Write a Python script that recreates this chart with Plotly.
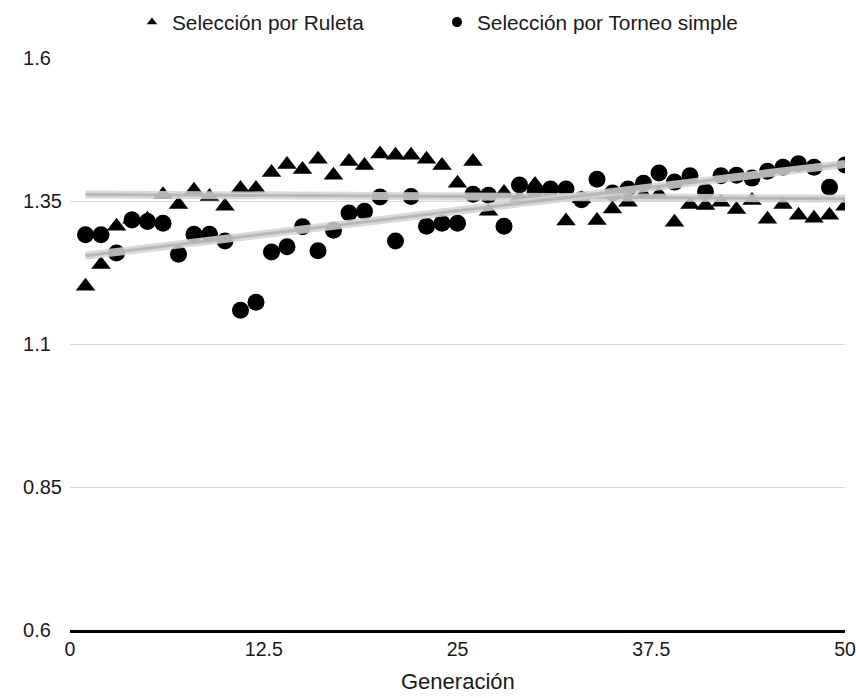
import numpy as np
import plotly.graph_objects as go

generacion = list(range(1, 51))

ruleta = [1.201, 1.239, 1.306, 1.318, 1.318, 1.361, 1.344, 1.369, 1.358, 1.341,
          1.372, 1.372, 1.400, 1.414, 1.405, 1.423, 1.395, 1.419, 1.412, 1.432,
          1.430, 1.430, 1.423, 1.412, 1.381, 1.419, 1.332, 1.365, 1.356, 1.379,
          1.361, 1.315, 1.354, 1.316, 1.336, 1.348, 1.361, 1.362, 1.313, 1.344,
          1.342, 1.348, 1.335, 1.351, 1.318, 1.344, 1.325, 1.320, 1.325, 1.341]

torneo = [1.291, 1.291, 1.259, 1.317, 1.314, 1.311, 1.257, 1.292, 1.292, 1.280,
          1.159, 1.173, 1.261, 1.270, 1.305, 1.263, 1.299, 1.329, 1.332, 1.357,
          1.280, 1.358, 1.306, 1.311, 1.311, 1.362, 1.360, 1.306, 1.378, 1.366,
          1.371, 1.371, 1.352, 1.388, 1.364, 1.371, 1.381, 1.399, 1.383, 1.394,
          1.366, 1.394, 1.395, 1.390, 1.402, 1.409, 1.415, 1.409, 1.374, 1.413]

x_ticks = [0, 12.5, 25, 37.5, 50]
x_tick_labels = ["0", "12.5", "25", "37.5", "50"]
y_ticks = [0.6, 0.85, 1.1, 1.35, 1.6]
y_tick_labels = ["0.6\u2007", "0.85", "1.1\u2007", "1.35", "1.6\u2007"]
x_title = "Generación"

FONT = "Liberation Sans, Arial, Helvetica, sans-serif"

x = np.array(generacion, dtype=float)
xr = np.array([x.min(), x.max()])

fig = go.Figure()

fig.add_trace(go.Scatter(x=generacion, y=ruleta, mode="markers", showlegend=False,
                         marker=dict(symbol="triangle-up", size=17, color="black")))
fig.add_trace(go.Scatter(x=generacion, y=torneo, mode="markers", showlegend=False,
                         marker=dict(symbol="circle", size=17, color="black")))

for ys in (ruleta, torneo):
    m, b = np.polyfit(x, np.array(ys), 1)
    yr = m * xr + b
    fig.add_trace(go.Scatter(x=xr, y=yr, mode="lines", showlegend=False, hoverinfo="skip",
                             line=dict(color="rgba(210,210,210,0.85)", width=8)))
    fig.add_trace(go.Scatter(x=xr, y=yr, mode="lines", showlegend=False, hoverinfo="skip",
                             line=dict(color="rgba(180,180,180,0.9)", width=3)))

# legend entries
fig.add_trace(go.Scatter(x=[None], y=[None], mode="markers", name="Selección por Ruleta",
                         marker=dict(symbol="triangle-up", size=9, color="black")))
fig.add_trace(go.Scatter(x=[None], y=[None], mode="markers", name="Selección por Torneo simple",
                         marker=dict(symbol="circle", size=10, color="black")))

fig.update_layout(
    width=856, height=698,
    margin=dict(l=70, r=11, t=58, b=68),
    paper_bgcolor="white", plot_bgcolor="white",
    font=dict(family=FONT, size=20, color="#1a1a1a"),
    legend=dict(orientation="h", xref="container", x=132 / 856, xanchor="left",
                yref="container", y=0.997, yanchor="top",
                font=dict(size=20.8), entrywidth=260, entrywidthmode="pixels"),
    xaxis=dict(range=[0, 50], tickvals=x_ticks, ticktext=x_tick_labels, showgrid=False,
               zeroline=False, showline=True, linecolor="black", linewidth=2.5,
               ticks="", ticklabelstandoff=0, automargin=False, tickfont=dict(size=19.5)),
    yaxis=dict(range=[0.6, 1.6], tickvals=y_ticks, ticktext=y_tick_labels, showgrid=True,
               gridcolor="#d9d9d9", gridwidth=1, zeroline=False, showline=False,
               ticks="", ticklabelstandoff=7, automargin=False),
    annotations=[dict(text=x_title, xref="paper", yref="paper", x=0.5, y=-0.1155,
                      xanchor="center", yanchor="bottom", showarrow=False,
                      font=dict(size=22))],
)

fig.write_html("out.html")
